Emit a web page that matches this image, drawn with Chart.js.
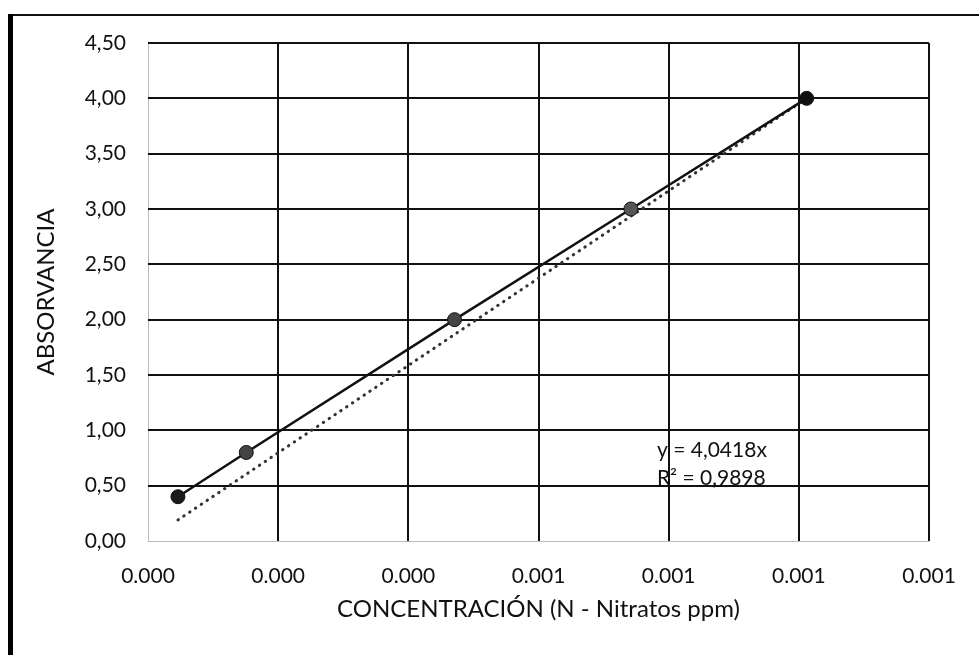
<!DOCTYPE html>
<html>
<head>
<meta charset="utf-8">
<script src="https://cdn.jsdelivr.net/npm/chart.js@4.4.1/dist/chart.umd.min.js"></script>
<style>
    html, body { margin: 0; padding: 0; background: #fff; }
    #wrap { position: relative; width: 979px; height: 655px; }
    #frameTop { position: absolute; left: 8px; top: 14px; width: 971px; height: 2px; background: #111; }
    #frameLeft { position: absolute; left: 8px; top: 14px; width: 5px; height: 641px; background: #000; }
    canvas { position: absolute; left: 0; top: 0; }
</style>
</head>
<body>
<div id="wrap">
    <canvas id="chart" width="979" height="655"></canvas>
    <div id="frameTop"></div>
    <div id="frameLeft"></div>
</div>
<script>
// Concentration (x) and absorbance (y)
const concentration = [0.000046, 0.000151, 0.000471, 0.000742, 0.001012];
const absorbance = [0.40, 0.80, 2.00, 3.00, 4.00];

// Linear trend line end points (first and last x)
const trendX = [0.000046, 0.001012];
const trendY = [0.19, 4.00];

const equationText = ['y = 4,0418x', 'R² = 0,9898'];
const equationPos = { x: 0.000782, y: [0.82, 0.57] };

const FONT = 'Lato, "Open Sans", sans-serif';

/**
 * Draws the trend line equation next to the line.
 */
const equationPlugin = {
    id: 'equation',
    afterDatasetsDraw(chart) {
        const ctx = chart.ctx;
        const xs = chart.scales.x;
        const ys = chart.scales.y;
        ctx.save();
        ctx.font = '21px ' + FONT;
        ctx.fillStyle = '#111';
        ctx.textBaseline = 'middle';
        ctx.textAlign = 'left';
        equationText.forEach((t, i) => {
            ctx.fillText(t, xs.getPixelForValue(equationPos.x), ys.getPixelForValue(equationPos.y[i]));
        });
        ctx.restore();
    }
};

const gridColor = (c) => c.index === 0 ? '#bbb' : '#111';
const gridWidth = (c) => c.index === 0 ? 1 : 2;

new Chart(document.getElementById('chart').getContext('2d'), {
    type: 'scatter',
    data: {
        datasets: [{
            label: 'Absorbancia',
            data: concentration.map((x, i) => ({ x: x, y: absorbance[i] })),
            showLine: true,
            borderColor: '#111',
            borderWidth: 2.5,
            pointRadius: 7,
            pointBackgroundColor: ['#1a1a1a', '#444', '#444', '#555', '#111'],
            pointBorderColor: '#111',
            pointBorderWidth: 1,
            order: 1
        }, {
            label: 'Lineal',
            data: trendX.map((x, i) => ({ x: x, y: trendY[i] })),
            showLine: true,
            borderColor: '#333',
            borderWidth: 3,
            borderDash: [0.5, 6.5],
            borderCapStyle: 'round',
            pointRadius: 0,
            order: 2
        }]
    },
    options: {
        responsive: false,
        animation: false,
        layout: { padding: { top: 43, right: 50, left: 28, bottom: 27 } },
        plugins: {
            legend: { display: false },
            tooltip: { enabled: false }
        },
        scales: {
            x: {
                type: 'linear',
                min: 0,
                max: 0.0012,
                ticks: {
                    stepSize: 0.0002,
                    color: '#111',
                    font: { family: FONT, size: 21 },
                    padding: 23,
                    callback: (v) => v.toFixed(3)
                },
                grid: { color: gridColor, lineWidth: gridWidth, drawTicks: false },
                border: { display: false },
                title: {
                    display: true,
                    text: 'CONCENTRACIÓN (N - Nitratos ppm)',
                    color: '#111',
                    font: { family: FONT, size: 24 }
                },
                afterFit: (s) => { s.height = 87; }
            },
            y: {
                min: 0,
                max: 4.5,
                ticks: {
                    stepSize: 0.5,
                    color: '#111',
                    font: { family: FONT, size: 21 },
                    padding: 22,
                    callback: (v) => v.toFixed(2).replace('.', ',')
                },
                grid: { color: gridColor, lineWidth: gridWidth, drawTicks: false },
                border: { display: false },
                title: {
                    display: true,
                    text: 'ABSORVANCIA',
                    color: '#111',
                    font: { family: FONT, size: 24 }
                },
                afterFit: (s) => { s.width = 120; }
            }
        }
    },
    plugins: [equationPlugin]
});
</script>
</body>
</html>
